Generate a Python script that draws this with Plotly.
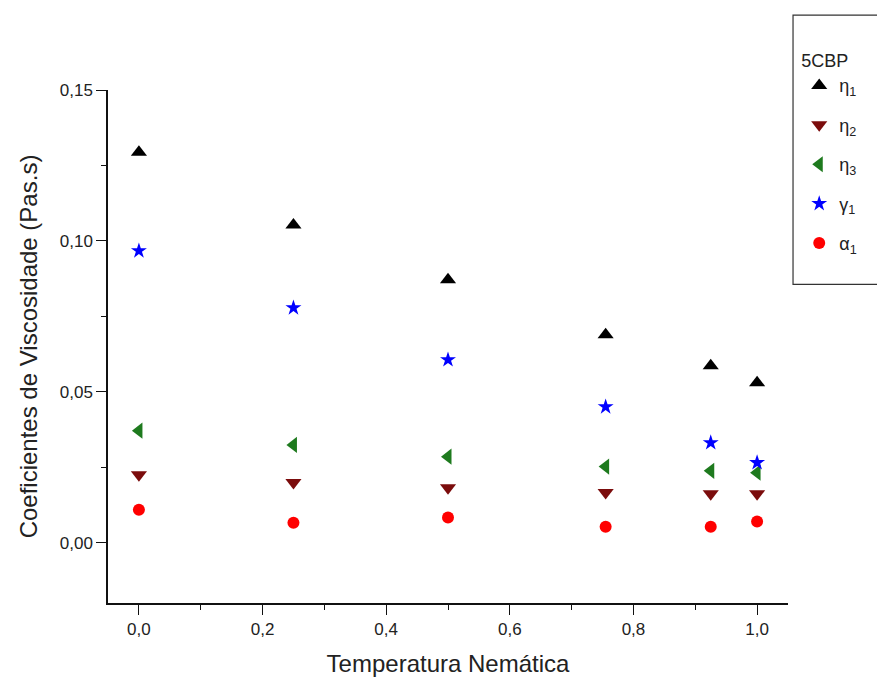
import plotly.graph_objects as go

# Data
temp = [0.0, 0.25, 0.5, 0.755, 0.925, 1.0]
eta1 = [0.1294, 0.1053, 0.0871, 0.0689, 0.0586, 0.0530]
eta2 = [0.0225, 0.0199, 0.0182, 0.0166, 0.0162, 0.0162]
eta3 = [0.0371, 0.0324, 0.0285, 0.0252, 0.0238, 0.0232]
gamma1 = [0.0967, 0.0778, 0.0606, 0.0450, 0.0331, 0.0265]
alpha1 = [0.0109, 0.0066, 0.0083, 0.0053, 0.0053, 0.0070]

series = [
    ("η<sub>1</sub>", eta1, "triangle-up", "#000000", 14),
    ("η<sub>2</sub>", eta2, "triangle-down", "#7b0c0c", 14),
    ("η<sub>3</sub>", eta3, "triangle-left", "#1e7a1e", 14),
    ("γ<sub>1</sub>", gamma1, "star", "#0000ff", 12),
    ("α<sub>1</sub>", alpha1, "circle", "#ff0000", 12),
]

FONT = "Liberation Sans, Arial, sans-serif"

fig = go.Figure()
for name, vals, sym, col, size in series:
    fig.add_trace(go.Scatter(
        x=temp, y=vals, mode="markers", name=name, legendgroup=name,
        marker=dict(symbol=sym, color=col, size=size, line=dict(width=0)),
    ))

fig.update_layout(
    width=877, height=684,
    margin=dict(l=108, r=89, t=90, b=81, autoexpand=False),
    plot_bgcolor="white", paper_bgcolor="white",
    separators=",.",
    font=dict(family=FONT, size=17, color="#222222"),
    showlegend=True,
    legend=dict(
        x=1.0165, xanchor="left", y=1.090, yanchor="top",
        bgcolor="rgba(0,0,0,0)", borderwidth=0,
        title=dict(text="5CBP", font=dict(size=18, family=FONT)),
        font=dict(size=18, family=FONT),
        traceorder="grouped", tracegroupgap=13,
    ),
    shapes=[dict(type="rect", xref="paper", yref="paper",
                 x0=1.0074, x1=1.3, y0=0.621, y1=1.146,
                 line=dict(color="#333333", width=1.2))],
)

fig.update_xaxes(
    range=[-0.05, 1.05], tick0=0, dtick=0.2, tickformat=".1f",
    showgrid=False, zeroline=False,
    showline=True, linecolor="#111111", linewidth=1.5,
    ticks="outside", ticklen=10, tickwidth=1.2, tickcolor="#111111",
    minor=dict(dtick=0.1, ticks="outside", ticklen=5, tickwidth=1.2, tickcolor="#111111"),
    tickfont=dict(size=17, family=FONT),
    title=dict(text="Temperatura Nemática", font=dict(size=24, family=FONT), standoff=17),
)
fig.update_yaxes(
    range=[-0.02, 0.15], tick0=0, dtick=0.05, tickformat=".2f",
    showgrid=False, zeroline=False,
    showline=True, linecolor="#111111", linewidth=1.5,
    ticks="outside", ticklen=10, tickwidth=1.2, tickcolor="#111111",
    minor=dict(dtick=0.025, ticks="outside", ticklen=5, tickwidth=1.2, tickcolor="#111111"),
    tickfont=dict(size=17, family=FONT),
    title=dict(text="Coeficientes de Viscosidade (Pas.s)", font=dict(size=24, family=FONT), standoff=15),
)

fig.write_html("out.html", config={"displayModeBar": False},
               post_script="document.body.style.margin='0';")
